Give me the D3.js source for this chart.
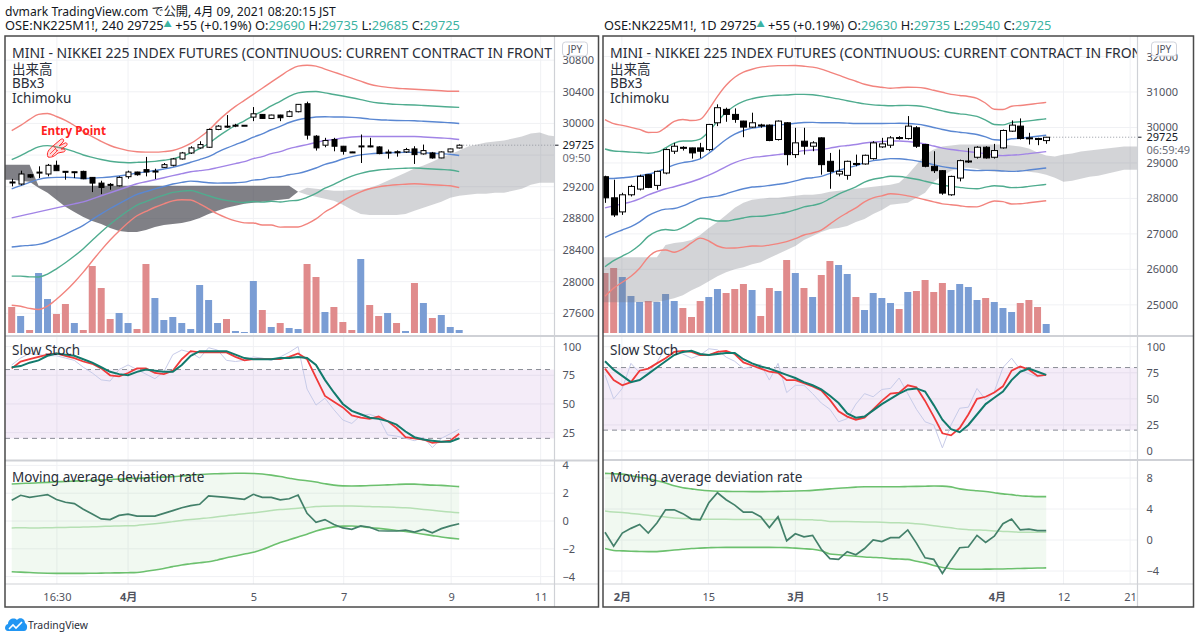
<!DOCTYPE html>
<html><head><meta charset="utf-8">
<script src="https://cdn.jsdelivr.net/npm/d3@7"></script>
<style>html,body{margin:0;padding:0;background:#fff;}svg{display:block;}</style>
</head><body><svg id="c" width="1200" height="639"></svg>
<script>
// ---------------- DATA : left chart (240 min) ----------------
const leftOpen  = [29260,29234,29352,29378,29361,29471,29395,29388,29394,29318,29246,29230,29212,29327,29386,29416,29392,29445,29471,29551,29627,29691,29699,29924,29966,29975,29973,30080,30114,30063,30106,30089,30148,30249,29839,29725,29797,29712,29640,29712,29716,29703,29634,29642,29640,29678,29615,29627,29564,29640,29690];
const leftHigh  = [29300,29403,29360,29458,29488,29530,29398,29392,29403,29322,29276,29246,29331,29403,29390,29577,29428,29500,29564,29640,29712,29775,29936,29978,30106,29995,29980,30207,30118,30110,30110,30165,30245,30275,29852,29818,29818,29716,29642,29860,29818,29712,29670,29660,29691,29712,29733,29640,29648,29682,29735];
const leftLow   = [29205,29217,29310,29310,29331,29400,29289,29310,29295,29132,29107,29162,29204,29301,29340,29331,29297,29437,29458,29543,29614,29682,29691,29915,29945,29953,29970,30029,30059,30059,30029,30080,30140,29797,29657,29699,29648,29606,29632,29500,29699,29610,29555,29580,29627,29488,29606,29555,29560,29636,29685];
const leftClose = [29250,29361,29322,29385,29471,29403,29385,29390,29301,29246,29191,29225,29318,29386,29352,29386,29398,29479,29551,29627,29691,29733,29924,29966,29960,29978,29977,30122,30063,30106,30072,30148,30241,29852,29691,29784,29712,29648,29636,29716,29712,29619,29638,29638,29670,29606,29657,29564,29640,29678,29725];
const leftVolume = [26,17,3,60,34,19,29,10,3,67,45,14,20,10,4,69,35,13,16,10,4,48,33,10,14,2,1,52,23,6,10,5,4,69,56,21,26,11,3,74,28,17,20,10,2,50,30,15,18,6,3];
const leftBBMid = [28806,28832,28857,28882,28908,28933,28959,28984,29009,29047,29086,29124,29162,29200,29238,29263,29289,29314,29340,29365,29390,29403,29416,29441,29467,29492,29517,29555,29581,29619,29644,29682,29708,29733,29759,29784,29797,29816,29829,29835,29835,29835,29835,29835,29835,29835,29829,29822,29816,29810,29797];
const leftBBSigma = [368,381,398,411,406,385,360,330,296,262,229,199,174,152,135,125,116,110,106,110,119,140,165,195,220,241,258,271,288,301,318,330,339,334,322,301,284,265,248,233,220,212,207,203,201,199,199,199,199,199,203];
// Ichimoku spans, first value is one bar before the first candle; they run 26 bars ahead
const leftSpanA = [29289,29289,29276,29263,29187,29124,29035,28946,28882,28819,28768,28730,28679,28641,28628,28628,28654,28692,28717,28730,28743,28768,28806,28857,28895,28933,28959,28984,28997,29009,29022,29035,29048,29136,29187,29175,29162,29149,29149,29162,29162,29187,29225,29276,29327,29378,29429,29467,29517,29568,29606,29657,29708,29733,29759,29771,29784,29810,29835,29873,29886,29848,29835];
const leftSpanB = [29479,29479,29479,29479,29213,29213,29213,29213,29213,29213,29213,29213,29213,29213,29213,29213,29213,29213,29213,29213,29213,29213,29213,29213,29213,29213,29213,29213,29213,29213,29213,29213,29213,29136,29098,29073,29048,29022,28971,28908,28857,28844,28844,28844,28844,28857,28895,28933,28971,29009,29060,29086,29098,29111,29111,29124,29124,29149,29175,29225,29251,29251,29251];
const leftStochK = [81,87,89,91,93,94,92,90,87,85,81,75,74,77,81,81,77,76,79,89,96,95,95,95,95,91,88,89,89,89,89,91,94,89,73,57,52,47,40,38,37,39,35,29,21,20,19,16,17,18,24];
const leftStochD = [82,83,86,88,92,94,93,92,89,86,82,78,76,75,78,80,79,78,78,84,92,96,96,96,96,93,90,89,89,89,90,90,91,90,84,71,60,50,44,41,38,37,35,32,26,21,19,18,17,17,20];
const leftStochFast = [84,90,94,93,92,92,90,88,82,77,71,70,80,84,80,76,72,78,93,97,95,90,99,97,88,87,88,91,90,88,91,95,100,63,49,55,45,36,33,40,41,38,23,22,20,18,21,12,20,24,28];
const leftMadr = [1.5,1.85,1.7,1.8,1.9,1.55,1.35,1.25,0.85,0.5,0.15,0.1,0.4,0.5,0.35,0.35,0.35,0.55,0.75,0.95,1.1,1.2,1.8,1.75,1.7,1.63,1.56,1.92,1.7,1.7,1.52,1.6,1.87,0.55,-0.1,0.1,-0.25,-0.5,-0.6,-0.35,-0.45,-0.7,-0.72,-0.72,-0.65,-0.8,-0.6,-0.85,-0.55,-0.35,-0.2];
const leftMadrUpper = [2.66,2.7,2.72,2.75,2.78,2.82,2.84,2.87,2.9,2.93,2.96,2.99,3.01,3.04,3.07,3.1,3.13,3.16,3.19,3.24,3.29,3.34,3.38,3.4,3.42,3.43,3.43,3.42,3.38,3.3,3.2,3.08,2.97,2.9,2.8,2.68,2.58,2.53,2.52,2.53,2.55,2.57,2.6,2.63,2.65,2.65,2.62,2.58,2.56,2.52,2.47];
const leftMadrLower = [-3.65,-3.68,-3.71,-3.74,-3.76,-3.77,-3.77,-3.77,-3.77,-3.76,-3.75,-3.74,-3.73,-3.72,-3.7,-3.62,-3.53,-3.42,-3.28,-3.16,-3.08,-3.0,-2.93,-2.8,-2.65,-2.52,-2.38,-2.25,-2.05,-1.8,-1.55,-1.35,-1.15,-0.95,-0.72,-0.55,-0.42,-0.37,-0.36,-0.4,-0.47,-0.53,-0.6,-0.68,-0.76,-0.85,-0.95,-1.05,-1.15,-1.23,-1.3];
const leftPriceTicks = [27600,28000,28400,28800,29200,30000,30400,30800];
const leftGridTicks = [27600,28000,28400,28800,29200,29600,30000,30400,30800];
const leftTimeTickPos = [5.05,13,27,37.1,49.1,59.1];
const leftTimeTickLabels = ['16:30','4月','5','7','9','11'];

// ---------------- DATA : right chart (daily) ----------------
const rightOpen  = [28612,28017,27620,28102,28263,28669,28367,28716,29330,29440,29424,29424,29377,30132,30510,30368,30180,30010,30070,30066,29660,30132,29235,29613,29471,29707,29046,28688,28650,28985,28971,29122,29452,29500,29716,29688,29991,29519,28905,28782,28102,28574,29046,29160,29443,29160,29424,29896,30038,29707,29690,29630];
const rightHigh  = [28640,28527,28159,28385,28669,28680,28782,29410,29566,29471,29430,29566,30100,30652,30557,30538,30190,30416,30104,30085,30198,30150,29991,29991,29613,29720,29282,29377,29065,29235,29235,29613,29707,29755,29755,30321,30038,29537,29330,28800,28640,29094,29424,29471,29471,29537,29943,30198,30255,29849,29710,29735];
const rightLow   = [27875,27479,27535,28055,28225,28290,28244,28680,29254,29349,29122,29141,29330,30038,30160,30132,29726,29991,29991,29613,29632,28933,29141,29235,29330,28669,28272,28621,28527,28905,28952,29094,29424,29424,29660,29660,29424,28877,28716,28102,28074,28480,28999,29122,29122,29122,29405,29877,29660,29519,29500,29540];
const rightClose = [28017,27535,28102,28338,28621,28310,28763,29377,29471,29420,29283,29330,30085,30557,30368,30227,30010,30132,30060,29632,30180,29235,29566,29471,29566,28952,28763,28763,29046,28970,29216,29566,29537,29707,29707,30038,29471,28905,28782,28150,28621,29065,29055,29443,29141,29349,29915,30066,29688,29700,29660,29725];
const rightVolume = [60,65,56,37,31,32,31,39,32,25,16,32,36,44,40,44,49,43,17,45,42,73,60,45,36,58,72,68,59,36,23,40,35,30,24,41,42,53,41,50,43,49,46,33,35,31,25,21,30,33,26,9];
const rightBBMid = [27734,27790,27847,27904,27989,28102,28187,28272,28329,28399,28470,28555,28654,28768,28895,29008,29093,29150,29178,29207,29235,29263,29306,29348,29363,29377,29419,29462,29490,29518,29561,29589,29603,29618,29618,29603,29575,29533,29476,29419,29377,29348,29320,29292,29263,29221,29207,29221,29235,29263,29292,29320];
const rightBBSigma = [830,773,737,700,652,586,558,575,615,609,575,558,618,703,765,802,822,830,841,841,836,827,813,793,779,756,714,671,632,595,552,524,510,496,501,510,518,524,524,524,518,518,518,510,473,431,433,459,462,462,462,462];
const rightSpanA = [26345,26345,26345,26345,26345,26345,26345,26345,26685,26742,26770,26827,26969,27167,27337,27535,27734,27875,27960,27989,28017,28017,28045,28074,28102,28102,28130,28187,28215,28244,28272,28300,28329,28357,28385,28442,28668,28952,29235,29377,29462,29490,29518,29518,29518,29518,29518,29518,29490,29462,29405,29292,29207,29178,29235,29263,29320,29348,29377,29405,29433,29462,29462,29462];
const rightSpanB = [25071,25071,25071,25071,25071,25071,25071,25071,25127,25184,25269,25410,25524,25665,25807,25920,26005,26062,26147,26204,26317,26430,26544,26657,26827,26940,27054,27139,27167,27224,27337,27422,27564,27677,27819,27847,27875,28017,28158,28470,28640,28782,28867,28867,28838,28782,28753,28753,28782,28782,28753,28725,28668,28584,28470,28498,28555,28612,28640,28697,28753,28810,28810,28810];
const rightStochK = [79,68,63,66,77,79,84,89,95,96,95,92,92,95,96,93,85,82,79,76,75,68,68,65,62,58,49,38,33,30,32,40,48,55,56,63,61,48,33,17,15,22,35,50,52,56,62,77,81,78,72,73];
const rightStochD = [86,78,72,66,68,74,80,86,92,95,96,93,92,93,94,94,88,84,81,79,76,73,70,66,63,59,53,46,36,32,33,39,45,50,55,59,60,57,44,30,21,18,25,35,45,51,57,68,76,79,76,73];
const rightStochFast = [73,50,60,84,75,75,85,99,99,93,89,92,98,97,90,86,79,81,83,68,84,56,63,63,55,46,40,28,31,45,55,52,59,60,70,55,40,28,25,3,25,41,42,60,49,57,80,89,78,74,71,73];
const rightMadr = [1.0,-0.8,0.9,1.5,2.0,0.9,2.2,3.9,3.9,3.4,2.7,2.6,4.8,6.1,5.2,4.5,3.6,3.6,3.0,1.6,3.0,-0.1,0.8,0.4,0.6,-1.2,-2.4,-2.5,-1.5,-1.9,-1.1,0,-0.2,0.3,0.3,1.3,-0.4,-2.3,-2.5,-4.3,-2.6,-1.0,-0.9,0.6,-0.3,0.5,2.1,2.7,1.3,1.4,1.2,1.2];
const rightMadrUpper = [8.6,8.55,8.5,8.3,8.1,7.9,7.65,7.35,7.0,6.75,6.6,6.45,6.35,6.3,6.28,6.26,6.25,6.24,6.24,6.25,6.27,6.3,6.32,6.35,6.4,6.5,6.6,6.67,6.75,6.82,6.87,6.88,6.88,6.88,6.88,6.9,6.92,6.94,6.96,6.95,6.85,6.6,6.45,6.35,6.25,6.1,5.95,5.85,5.7,5.65,5.6,5.6];
const rightMadrLower = [-1.1,-1.35,-1.4,-1.45,-1.48,-1.5,-1.5,-1.4,-1.3,-1.2,-1.1,-1.05,-1.0,-0.96,-0.95,-0.95,-0.95,-0.95,-0.95,-0.95,-0.96,-0.98,-1.05,-1.12,-1.2,-1.4,-1.8,-1.9,-2.0,-2.1,-2.2,-2.25,-2.3,-2.4,-2.45,-2.5,-2.75,-2.95,-3.3,-3.55,-3.7,-3.78,-3.78,-3.77,-3.76,-3.75,-3.74,-3.7,-3.67,-3.65,-3.62,-3.6];
const rightPriceTicks = [25000,26000,27000,28000,29000,30000,31000,32000];
const rightTimeTickPos = [1.95,11.95,22,32,45.3,53,60.7];
const rightTimeTickLabels = ['2月','15','3月','15','4月','12','21'];

const stochTicksLeft = [25,50,75,100];
const stochTicksRight = [0,25,50,75,100];
const madrTicksLeft = [-4,-2,0,2,4];
const madrTicksRight = [-4,0,4,8];

// ---------------- TEXT ----------------
const headerLine1 = 'dvmark TradingView.com で公開, 4月 09, 2021 08:20:15 JST';
// the symbol title as far as it is visible before the price scale
const titleText = 'MINI - NIKKEI 225 INDEX FUTURES (CONTINUOUS: CURRENT CONTRACT IN FRONT';
const legendLines = ['出来高','BBx3','Ichimoku'];

// ---------------- RENDER ----------------
const FONT = "'Noto Sans','Noto Sans CJK JP',sans-serif";
const svg = d3.select('#c').attr('font-family', FONT);
svg.append('rect').attr('width',1200).attr('height',639).attr('fill','#fff');

function fitWidth(sel, target){
  const w = sel.node().getComputedTextLength();
  const fs = parseFloat(sel.attr('font-size'));
  sel.attr('font-size', (fs*target/w).toFixed(2));
}

const h1 = svg.append('text').attr('x',5).attr('y',16).attr('font-size',14).attr('fill','#131722').text(headerLine1);
fitWidth(h1, 331);

function header2(x, y, interval, o, h, l, c, target){
  const t = svg.append('text').attr('x',x).attr('y',y).attr('font-size',14).attr('fill','#131722');
  const teal = '#3cb3a3';
  t.append('tspan').text(`OSE:NK225M1!, ${interval} ${c}`);
  const tri = t.append('tspan').attr('fill',teal).attr('font-size',9).attr('dy',-3).text('▲');
  t.append('tspan').attr('dy',3).text(' +55 (+0.19%) O:');
  t.append('tspan').attr('fill',teal).text(o);
  t.append('tspan').text(' H:');
  t.append('tspan').attr('fill',teal).text(h);
  t.append('tspan').text(' L:');
  t.append('tspan').attr('fill',teal).text(l);
  t.append('tspan').text(' C:');
  t.append('tspan').attr('fill',teal).text(c);
  const w = t.node().getComputedTextLength();
  t.attr('font-size', (14*target/w).toFixed(2));
  tri.attr('font-size', (9*target/w).toFixed(2));
}
header2(5, 30, '240', leftOpen[leftOpen.length-1], leftHigh[leftHigh.length-1], leftLow[leftLow.length-1], leftClose[leftClose.length-1], 455);
header2(604, 30, '1D', rightOpen[rightOpen.length-1], rightHigh[rightHigh.length-1], rightLow[rightLow.length-1], rightClose[rightClose.length-1], 448);

const BB_COLORS = {3:'#f2847e', 2:'#4fac8f', 1:'#5a87d2', 0:'#a184e6'};
const UP_VOL = '#7a9dd4', DN_VOL = '#e08b8c';

let titleFont = null;

function drawChart(id, cfg, d){
  const g = svg.append('g');
  const x = d3.scaleLinear().domain(cfg.xDomain).range(cfg.xRange);
  const y = d3.scaleLinear().domain(cfg.priceDomain).range([cfg.mainY1, cfg.frameY0]);
  const yv = d3.scaleLinear().domain([0,100]).range([cfg.volBase, cfg.volBase-100]);
  const ys = d3.scaleLinear().domain([0,100]).range(cfg.stochRange);
  const ym = d3.scaleLinear().domain(cfg.madrDomain).range(cfg.madrRange);
  const pX0 = cfg.frameX0, pX1 = cfg.axisX;

  const defs = g.append('defs');
  const clip = (name, y0, y1) => {
    defs.append('clipPath').attr('id', id+name).append('rect')
      .attr('x', pX0).attr('y', y0).attr('width', pX1-pX0).attr('height', y1-y0);
    return `url(#${id+name})`;
  };
  const cMain = clip('m', cfg.frameY0, cfg.mainY1);
  const cSto = clip('s', cfg.mainY1+1, cfg.stochY1);
  const cMad = clip('d', cfg.stochY1+1, cfg.timeY);

  const GRID = '#f0f1f4';
  const gGrid = g.append('g');
  gGrid.append('g').attr('clip-path', cMain).selectAll('line').data(cfg.gridTicks).join('line')
    .attr('x1',pX0).attr('x2',pX1).attr('y1',v=>y(v)).attr('y2',v=>y(v)).attr('stroke',GRID);
  gGrid.append('g').attr('clip-path', cSto).selectAll('line').data(cfg.stochTicks).join('line')
    .attr('x1',pX0).attr('x2',pX1).attr('y1',v=>ys(v)).attr('y2',v=>ys(v)).attr('stroke',GRID);
  gGrid.append('g').attr('clip-path', cMad).selectAll('line').data(cfg.madrTicks).join('line')
    .attr('x1',pX0).attr('x2',pX1).attr('y1',v=>ym(v)).attr('y2',v=>ym(v)).attr('stroke',GRID);
  gGrid.append('g').selectAll('line').data(cfg.timePos).join('line')
    .attr('x1',v=>x(v)).attr('x2',v=>x(v)).attr('y1',cfg.frameY0).attr('y2',cfg.timeY).attr('stroke',GRID);

  const gm = g.append('g').attr('clip-path', cMain);
  gm.selectAll('rect.vol').data(d.volume).join('rect')
    .attr('x',(v,i)=>x(i)-cfg.volW/2).attr('width',cfg.volW)
    .attr('y',v=>yv(v)).attr('height',v=>cfg.volBase-yv(v))
    .attr('fill',(v,i)=> d.close[i] >= d.open[i] ? UP_VOL : DN_VOL);

  const ci = i => x(i + cfg.cloudStart);
  const cloudLight = d3.area().x((v,i)=>ci(i)).y0((v,i)=>y(d.spanB[i])).y1((v,i)=>y(Math.max(d.spanA[i],d.spanB[i])));
  const cloudDark = d3.area().x((v,i)=>ci(i)).y0((v,i)=>y(d.spanB[i])).y1((v,i)=>y(Math.min(d.spanA[i],d.spanB[i])));
  gm.append('path').attr('d', cloudLight(d.spanA)).attr('fill','rgba(118,120,132,0.32)');
  gm.append('path').attr('d', cloudDark(d.spanA)).attr('fill','rgba(62,62,72,0.66)');

  [3,2,1,0,-1,-2,-3].forEach(k=>{
    const line = d3.line().x((v,i)=>x(i)).y((v,i)=>y(d.mid[i] + k*d.sigma[i])).curve(d3.curveMonotoneX);
    gm.append('path').attr('d', line(d.mid)).attr('fill','none')
      .attr('stroke', BB_COLORS[Math.abs(k)]).attr('stroke-width',1.4);
  });

  const last = d.close[d.close.length-1];
  gm.append('line').attr('x1', x(d.close.length-1)+4).attr('x2', pX1).attr('y1', y(last)).attr('y2', y(last))
    .attr('stroke','#9598a1').attr('stroke-dasharray','1,2');

  const cg = gm.append('g');
  d.open.forEach((o,i)=>{
    const c = d.close[i], up = c >= o, cx = Math.round(x(i)) + 0.5;
    cg.append('line').attr('x1',cx).attr('x2',cx).attr('y1',y(d.high[i])).attr('y2',y(d.low[i])).attr('stroke','#000').attr('stroke-width',1);
    const top = y(Math.max(o,c)), bot = y(Math.min(o,c));
    cg.append('rect').attr('x', cx - cfg.bodyW/2).attr('width', cfg.bodyW)
      .attr('y', top).attr('height', Math.max(1, bot-top))
      .attr('fill', up ? '#fff' : '#000').attr('stroke','#000').attr('stroke-width',1);
  });

  const tt = gm.append('text').attr('x', cfg.frameX0+7).attr('y', 58).attr('font-size', 13).attr('fill','#2a2e39').text(titleText);
  if (titleFont === null){
    const w = tt.node().getComputedTextLength();
    titleFont = 13 * 540 / w;
  }
  tt.attr('font-size', titleFont.toFixed(2));
  legendLines.forEach((s,k)=>{
    g.append('text').attr('x', cfg.frameX0+7).attr('y', 73.5 + k*14.5).attr('font-size', 13.5).attr('fill','#2a2e39').text(s);
  });

  if (cfg.entry){
    const et = g.append('text').attr('x',41).attr('y',135).attr('font-size',12).attr('font-weight','bold').attr('fill','#ff1e1e').text('Entry Point');
    fitWidth(et, 65);
    g.append('path').attr('d','M48,157 C46,153 49,149 53,146 L60,140 C62,138 65,139 63,142 L59,146 L65,143 C67,142 68,145 66,146 L61,149 L64,149 C66,150 65,152 63,152 L58,153 C55,156 51,158 48,157 Z')
      .attr('fill','rgba(255,120,120,0.25)').attr('stroke','#ff2a2a').attr('stroke-width',1);
    g.append('path').attr('d','M50,154 L56,148 M52,156 L58,150 M54,146 L57,151').attr('stroke','#ff2a2a').attr('stroke-width',0.8).attr('fill','none');
  }

  const ax = g.append('g').attr('transform',`translate(${cfg.axisX},0)`)
    .call(d3.axisRight(y).tickValues(cfg.priceTicks).tickSize(0).tickPadding(cfg.labelPad).tickFormat(d3.format('d')));
  ax.select('.domain').remove();
  ax.selectAll('text').attr('font-size',11).attr('fill','#50535e').attr('font-family',FONT);
  g.append('line').attr('x1',cfg.axisX).attr('x2',cfg.axisX+4).attr('y1',y(last)).attr('y2',y(last)).attr('stroke','#131722');
  g.append('text').attr('x',cfg.axisX+cfg.labelPad).attr('y',y(last)+4).attr('font-size',11).attr('fill','#131722').text(last);
  g.append('text').attr('x',cfg.axisX+cfg.labelPad).attr('y',y(last)+17).attr('font-size',11).attr('fill','#6a6d78').text(cfg.countdown);
  g.append('rect').attr('x',cfg.axisX+cfg.badgeOff).attr('y',cfg.frameY0+6).attr('width',25).attr('height',14).attr('rx',3)
    .attr('fill','#fff').attr('stroke','#d1d4dc');
  g.append('text').attr('x',cfg.axisX+cfg.badgeOff+12.5).attr('y',cfg.frameY0+16.5).attr('text-anchor','middle').attr('font-size',10).attr('fill','#50535e').text('JPY');

  const gs = g.append('g').attr('clip-path', cSto);
  gs.append('rect').attr('x',pX0).attr('width',pX1-pX0).attr('y',ys(80)).attr('height',ys(20)-ys(80)).attr('fill','rgba(155,80,190,0.11)');
  [80,20].forEach(v=> gs.append('line').attr('x1',pX0).attr('x2',pX1).attr('y1',ys(v)).attr('y2',ys(v))
     .attr('stroke','#8a8d96').attr('stroke-dasharray','5,4'));
  const sl = d3.line().x((v,i)=>x(i)).y(v=>ys(v));
  gs.append('path').attr('d',sl(d.fast)).attr('fill','none').attr('stroke','#c7cbe8').attr('stroke-width',1);
  gs.append('path').attr('d',sl(d.stochK)).attr('fill','none').attr('stroke','#f03a3a').attr('stroke-width',1.8);
  gs.append('path').attr('d',sl(d.stochD)).attr('fill','none').attr('stroke','#127a6c').attr('stroke-width',2);
  g.append('text').attr('x',cfg.frameX0+7).attr('y',cfg.mainY1+19).attr('font-size',13.5).attr('fill','#2a2e39').text('Slow Stoch');
  const sax = g.append('g').attr('transform',`translate(${cfg.axisX},0)`)
    .call(d3.axisRight(ys).tickValues(cfg.stochTicks).tickSize(0).tickPadding(cfg.labelPad));
  sax.select('.domain').remove();
  sax.selectAll('text').attr('font-size',11).attr('fill','#50535e').attr('font-family',FONT);

  const gd = g.append('g').attr('clip-path', cMad);
  const band = d3.area().x((v,i)=>x(i)).y0((v,i)=>ym(d.madrLower[i])).y1(v=>ym(v)).curve(d3.curveMonotoneX);
  gd.append('path').attr('d',band(d.madrUpper)).attr('fill','rgba(120,200,120,0.10)');
  const ml = d3.line().x((v,i)=>x(i)).y(v=>ym(v)).curve(d3.curveMonotoneX);
  const midVals = d.madrUpper.map((u,i)=>(u + d.madrLower[i]) / 2);
  gd.append('path').attr('d',ml(midVals)).attr('fill','none').attr('stroke','#b6e0b4').attr('stroke-width',1.5);
  gd.append('path').attr('d',ml(d.madrUpper)).attr('fill','none').attr('stroke','#6cc06e').attr('stroke-width',1.6);
  gd.append('path').attr('d',ml(d.madrLower)).attr('fill','none').attr('stroke','#6cc06e').attr('stroke-width',1.6);
  gd.append('path').attr('d',d3.line().x((v,i)=>x(i)).y(v=>ym(v))(d.madr)).attr('fill','none').attr('stroke','#43806a').attr('stroke-width',1.7);
  g.append('text').attr('x',cfg.frameX0+7).attr('y',cfg.stochY1+22).attr('font-size',13.5).attr('fill','#2a2e39').text('Moving average deviation rate');
  const dax = g.append('g').attr('transform',`translate(${cfg.axisX},0)`)
    .call(d3.axisRight(ym).tickValues(cfg.madrTicks).tickSize(0).tickPadding(cfg.labelPad));
  dax.select('.domain').remove();
  dax.selectAll('text').attr('font-size',11).attr('fill','#50535e').attr('font-family',FONT);

  const tax = g.append('g').attr('transform',`translate(0,${cfg.timeY})`)
    .call(d3.axisBottom(x).tickValues(cfg.timePos).tickSize(0).tickPadding(9).tickFormat((v,i)=>cfg.timeLabels[i]));
  tax.select('.domain').remove();
  tax.selectAll('text').attr('font-size',11).attr('fill','#50535e').attr('font-family',FONT)
    .attr('font-weight',(v,i)=> /月/.test(cfg.timeLabels[i]) ? 'bold' : 'normal');

  const SEP = '#cfd1d6';
  g.append('line').attr('x1',cfg.axisX).attr('x2',cfg.axisX).attr('y1',cfg.frameY0).attr('y2',cfg.frameY1).attr('stroke',SEP).attr('stroke-width',1.2);
  [cfg.mainY1+0.5, cfg.stochY1+0.5].forEach(v=> g.append('line').attr('x1',cfg.frameX0).attr('x2',cfg.frameX1).attr('y1',v).attr('y2',v).attr('stroke',SEP).attr('stroke-width',1.8));
  g.append('line').attr('x1',cfg.frameX0).attr('x2',cfg.frameX1).attr('y1',cfg.timeY).attr('y2',cfg.timeY).attr('stroke',SEP).attr('stroke-width',1.2);
  g.append('rect').attr('x',cfg.frameX0).attr('y',cfg.frameY0).attr('width',cfg.frameX1-cfg.frameX0).attr('height',cfg.frameY1-cfg.frameY0)
    .attr('fill','none').attr('stroke','#4a4a4a').attr('stroke-width',1.5);
}

drawChart('L', {
  frameX0:5, frameX1:598.5, frameY0:36, frameY1:607, axisX:554.5,
  mainY1:335.5, stochY1:460, timeY:584,
  xDomain:[0,50], xRange:[11.7,459.2],
  priceDomain:[27320,31105],
  priceTicks:leftPriceTicks, gridTicks:leftGridTicks,
  volBase:333, volW:7, bodyW:5, cloudStart:-1,
  stochRange:[461.3,346.6], stochTicks:stochTicksLeft,
  madrDomain:[-4,4], madrRange:[576.6,465.4], madrTicks:madrTicksLeft,
  timePos:leftTimeTickPos, timeLabels:leftTimeTickLabels,
  labelPad:8, badgeOff:8, countdown:'09:50', entry:true
}, {open:leftOpen, high:leftHigh, low:leftLow, close:leftClose, volume:leftVolume,
    mid:leftBBMid, sigma:leftBBSigma, spanA:leftSpanA, spanB:leftSpanB,
    stochK:leftStochK, stochD:leftStochD, fast:leftStochFast,
    madr:leftMadr, madrUpper:leftMadrUpper, madrLower:leftMadrLower});

drawChart('R', {
  frameX0:603, frameX1:1193.5, frameY0:36, frameY1:607, axisX:1137.5,
  mainY1:335.5, stochY1:459.5, timeY:584,
  xDomain:[0,51], xRange:[605,1046.2],
  priceDomain:[24136,32578],
  priceTicks:rightPriceTicks, gridTicks:rightPriceTicks,
  volBase:333, volW:7, bodyW:6, cloudStart:-1,
  stochRange:[451,346.7], stochTicks:stochTicksRight,
  madrDomain:[-4,8], madrRange:[571,478], madrTicks:madrTicksRight,
  timePos:rightTimeTickPos, timeLabels:rightTimeTickLabels,
  labelPad:9, badgeOff:14, countdown:'06:59:49', entry:false
}, {open:rightOpen, high:rightHigh, low:rightLow, close:rightClose, volume:rightVolume,
    mid:rightBBMid, sigma:rightBBSigma, spanA:rightSpanA, spanB:rightSpanB,
    stochK:rightStochK, stochD:rightStochD, fast:rightStochFast,
    madr:rightMadr, madrUpper:rightMadrUpper, madrLower:rightMadrLower});

const lg = svg.append('g');
lg.append('path').attr('d','M8,631 C4,631 4,625 8,624 C8,619 14,617 17,620 C19,617 25,618 25,623 C28,624 28,631 24,631 Z').attr('fill','#2196f3');
lg.append('path').attr('d','M9,629 L13,625 L16,628 L22,622').attr('stroke','#fff').attr('stroke-width',1.6).attr('fill','none');
const tvt = lg.append('text').attr('x',28).attr('y',629).attr('font-size',12).attr('fill','#2a2e39').text('TradingView');
fitWidth(tvt, 60);
</script></body></html>
